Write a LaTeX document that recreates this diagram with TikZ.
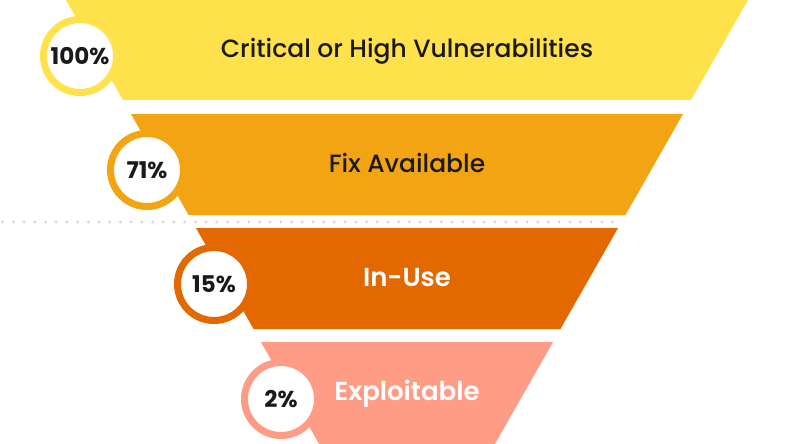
\documentclass[tikz,border=0pt]{standalone}
\usepackage{fontspec}
\setmainfont{Poppins}
\newfontfamily\popbold{Poppins}[UprightFont=* SemiBold]
\newfontfamily\popheavy{Poppins}[UprightFont=* Bold]
\newfontfamily\popmed{Poppins}[UprightFont=* Medium]
\definecolor{cYellow}{HTML}{FFE14C}
\definecolor{cAmber}{HTML}{F2A412}
\definecolor{cDark}{HTML}{E36800}
\definecolor{cSalmon}{HTML}{FF9C86}
\definecolor{cInk}{HTML}{1A1A1A}
\definecolor{cDot}{HTML}{D2D2D2}
\begin{document}
\begin{tikzpicture}[x=1pt,y=-1pt,
  pct/.style={circle,draw=#1,line width=7pt,fill=white,minimum size=73pt,inner sep=0pt,
    font=\popheavy\fontsize{23}{23}\selectfont,text=cInk},
  lbl/.style={anchor=base,font=\popmed\fontsize{25}{25}\selectfont,text=cInk},
  lblw/.style={anchor=base,font=\popbold\fontsize{26}{26}\selectfont,text=white}]
\useasboundingbox (0,0) rectangle (793,444);
\clip (0,0) rectangle (793,444);
\foreach \yt/\yb/\c in {0/100/cYellow,114/215/cAmber,228/329/cDark,342/444/cSalmon}{
  \fill[\c] ({66+0.57*\yt},\yt) -- ({748-0.57*\yt},\yt) -- ({748-0.57*\yb},\yb) -- ({66+0.57*\yb},\yb) -- cycle;
}
\foreach \i in {0,...,57}{
  \fill[cDot] ({2.7+10.7*\i},222) circle (1.5);
}
\node[pct=cYellow] (p1) at (80,56) {100\%};
\node[pct=cAmber] (p2) at (147,170) {71\%};
\node[pct=cDark] (p3) at (214,284) {15\%};
\node[pct=cSalmon] (p4) at (281,399) {2\%};
\node[lbl] (t1) at (407,58) {Critical or High Vulnerabilities};
\node[lbl] (t2) at (407,172) {Fix Available};
\node[lblw] (t3) at (407,286) {In-Use};
\node[lblw] (t4) at (407,400) {Exploitable};
\end{tikzpicture}
\end{document}
